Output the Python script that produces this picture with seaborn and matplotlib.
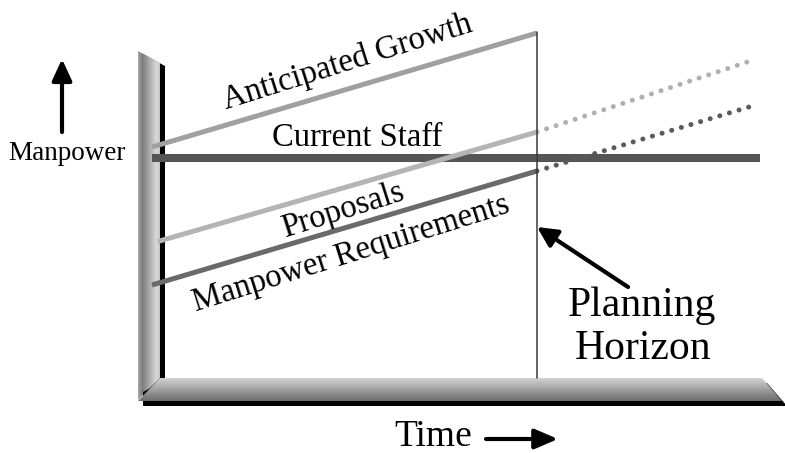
import numpy as np
import pandas as pd
import matplotlib
matplotlib.use("Agg")
import matplotlib.pyplot as plt
from matplotlib.colors import LinearSegmentedColormap
from matplotlib.patches import Polygon
import seaborn as sns

# ---------------- data (time in years, manpower in arbitrary units) ----------------
growth_t = [0.0, 10.0]
growth_m = [77.0, 115.0]

staff_t = [0.0, 15.8]
staff_m = [73.3, 73.3]

proposals_t = [0.15, 10.0]
proposals_m = [45.5, 82.0]
proposals_ext_t = [10.0, 15.5]
proposals_ext_m = [82.0, 105.5]

req_t = [0.0, 10.0]
req_m = [31.0, 69.0]
req_ext_t = [10.0, 15.6]
req_ext_m = [69.0, 90.7]

horizon_t = 10.0
horizon_m = [0.0, 115.3]

labels = ["Anticipated Growth", "Current Staff", "Proposals", "Manpower Requirements"]

# ---------------- figure ----------------
sns.set_theme(style="white")
plt.rcParams["font.family"] = ["Liberation Serif", "DejaVu Serif"]
plt.rcParams["text.color"] = "black"

W, H = 785, 453
fig = plt.figure(figsize=(W / 100, H / 100), dpi=100)

# decoration axes in pixel space
deco = fig.add_axes([0, 0, 1, 1], zorder=0)
deco.set_xlim(0, W)
deco.set_ylim(H, 0)
deco.axis("off")

# wall shadow + wall
wall = [(138, 51), (160, 63), (160, 378), (138, 400)]
deco.add_patch(Polygon([(x + 5, y + 3) for x, y in wall], closed=True, fc="black",
                       ec="none", zorder=1))
wall_patch = Polygon(wall, closed=True, fc="none", ec="none", zorder=1)
deco.add_patch(wall_patch)
wall_cmap = LinearSegmentedColormap.from_list(
    "wall", [(0, "#a8a8a8"), (0.2, "#7c7c7c"), (0.85, "#dadada"), (1, "#c4c4c4")])
g = np.linspace(0, 1, 256).reshape(1, -1)
im = deco.imshow(g, cmap=wall_cmap, extent=[138, 160, 400, 51], aspect="auto",
                 interpolation="bilinear", zorder=2)
im.set_clip_path(wall_patch)

# floor shadow + floor
floor = [(138, 401), (160, 378), (762, 378), (782, 401)]
deco.add_patch(Polygon([(143, 406), (143, 392), (160, 383), (767, 383), (787, 406)],
                       closed=True, fc="black", ec="none", zorder=3))
floor_patch = Polygon(floor, closed=True, fc="none", ec="none", zorder=3)
deco.add_patch(floor_patch)
floor_cmap = LinearSegmentedColormap.from_list("floor", ["#d4d4d4", "#6c6c6c"])
gv = np.linspace(0, 1, 256).reshape(-1, 1)
im2 = deco.imshow(gv, cmap=floor_cmap, extent=[138, 782, 401, 378], aspect="auto",
                  interpolation="bilinear", zorder=4)
im2.set_clip_path(floor_patch)
deco.set_xlim(0, W)
deco.set_ylim(H, 0)

# ---------------- data axes ----------------
ax = fig.add_axes([0, 0, 1, 1], zorder=1)
ax.patch.set_alpha(0)
ax.set_xlim(-3.948, 16.442)
ax.set_ylim(-25, 126)
ax.axis("off")

dots = (0, (0.01, 2.0))
sns.lineplot(x=growth_t, y=growth_m, ax=ax, color="#a0a0a0", lw=3.6, solid_capstyle="butt")
sns.lineplot(x=staff_t, y=staff_m, ax=ax, color="#555555", lw=5.8, solid_capstyle="butt")
sns.lineplot(x=proposals_t, y=proposals_m, ax=ax, color="#b4b4b4", lw=3.6, solid_capstyle="butt")
sns.lineplot(x=proposals_ext_t, y=proposals_ext_m, ax=ax, color="#b0b0b0", lw=3.6,
             linestyle=dots, dash_capstyle="round")
sns.lineplot(x=req_t, y=req_m, ax=ax, color="#6a6a6a", lw=3.6, solid_capstyle="butt")
sns.lineplot(x=req_ext_t, y=req_ext_m, ax=ax, color="#5a5a5a", lw=3.6,
             linestyle=dots, dash_capstyle="round")
ax.plot([horizon_t, horizon_t], horizon_m, color="#3a3a3a", lw=1.1)
ax.set_xlim(-3.948, 16.442)
ax.set_ylim(-25, 126)

# ---------------- text ----------------
fs = 23.5
deco.text(347, 62, labels[0], fontsize=fs, rotation=17.5, ha="center", va="center")
deco.text(357, 138, labels[1], fontsize=fs, ha="center", va="center")
deco.text(343, 210, labels[2], fontsize=fs, rotation=17.5, ha="center", va="center")
deco.text(351, 254, labels[3], fontsize=fs, rotation=17.5, ha="center", va="center")

deco.text(642, 316, "Planning", fontsize=30, ha="center", va="baseline")
deco.text(643, 359, "Horizon", fontsize=30, ha="center", va="baseline")
deco.annotate("", xy=(537, 227), xytext=(628, 287),
              arrowprops=dict(arrowstyle="-|>,head_length=12,head_width=6",
                              mutation_scale=1, lw=3, color="black",
                              shrinkA=0, shrinkB=0), zorder=5)

deco.text(433, 446, "Time", fontsize=27, ha="center", va="baseline")
deco.annotate("", xy=(558, 439), xytext=(486, 439),
              arrowprops=dict(arrowstyle="-|>,head_length=14,head_width=6",
                              mutation_scale=1, lw=3, color="black",
                              shrinkA=0, shrinkB=0))

deco.text(67, 160, "Manpower", fontsize=19.5, ha="center", va="baseline")
deco.annotate("", xy=(62, 59), xytext=(62, 132),
              arrowprops=dict(arrowstyle="-|>,head_length=13,head_width=6",
                              mutation_scale=1, lw=3, color="black",
                              shrinkA=0, shrinkB=0))

fig.savefig("out.png", dpi=100)
